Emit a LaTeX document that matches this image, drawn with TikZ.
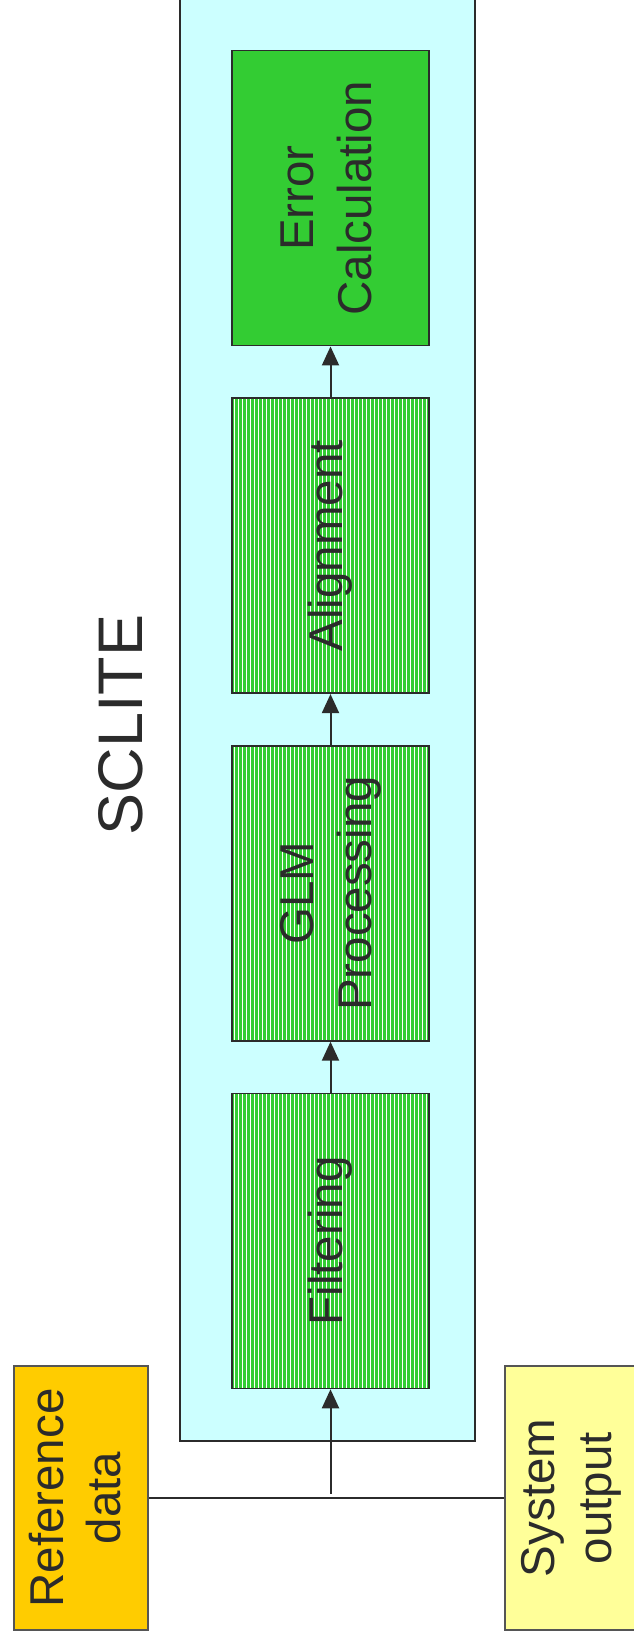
\documentclass[tikz,border=0pt]{standalone}
\usepackage{fontspec}
\setmainfont{Liberation Sans}
\usetikzlibrary{positioning,arrows.meta}
\definecolor{sclitebg}{HTML}{CCFFFF}
\definecolor{stagegreen}{HTML}{33CC33}
\definecolor{refcol}{HTML}{FFCC00}
\definecolor{syscol}{HTML}{FFFF99}
\definecolor{linecol}{HTML}{2B2B2B}
\newcommand{\vtext}[1]{\rotatebox{90}{\begin{tabular}{@{}c@{}}#1\end{tabular}}}

\begin{document}
\begin{tikzpicture}[x=1pt, y=1pt,
    stage/.style={draw=linecol, line width=1.6pt, fill=stagegreen, minimum width=197pt,
        minimum height=295pt, inner sep=0pt, text=linecol, font=\fontsize{47.5}{58}\selectfont},
    striped/.style={path picture={
        \foreach \k in {1,...,49}
            \draw[white, line width=1pt]
                ([xshift=\k*4pt-1.5pt]path picture bounding box.south west) --
                ([xshift=\k*4pt-1.5pt]path picture bounding box.north west);}},
    source/.style={draw=linecol!80, line width=1.2pt, minimum width=134pt,
        minimum height=264pt, inner sep=0pt, text=linecol, font=\fontsize{47.5}{57}\selectfont},
    flow/.style={-{Triangle[length=19pt, width=17pt]}, draw=linecol, line width=2pt}]
    \clip (0,0) rectangle (634,1644);

    % SCLITE container
    \draw[linecol, line width=1.6pt, fill=sclitebg] (180,203) rectangle (475,1670);
    \node[rotate=90, text=linecol, font=\fontsize{63}{70}\selectfont] (title) at (121,919) {SCLITE};

    \node [stage, striped] (filt) at (330.5,403) {\vtext{Filtering}};
    \node [stage, striped, above=51pt of filt] (glm) {\vtext{GLM\\Processing}};
    \node [stage, striped, above=51pt of glm] (align) {\vtext{Alignment}};
    \node [stage, above=51pt of align] (err) {\vtext{Error\\Calculation}};

    % inputs
    \node [source, fill=refcol] (ref) at (81,146) {\vtext{Reference\\data}};
    \node [source, fill=syscol] (sys) at (572,146) {\vtext{System\\output}};

    \draw [linecol, line width=2pt] (ref.east) -- (sys.west);
    \coordinate (junc) at (filt.south |- ref.east);

    \draw [flow] ([yshift=4pt]junc) -- (filt.south);
    \draw [flow] (filt) -- (glm);
    \draw [flow] (glm) -- (align);
    \draw [flow] (align) -- (err);
\end{tikzpicture}
\end{document}
